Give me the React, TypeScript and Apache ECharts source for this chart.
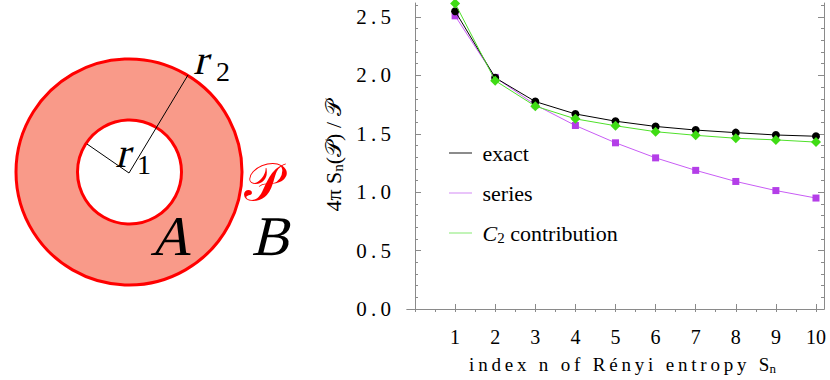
import React, { useEffect, useRef } from "react";
import * as echarts from "echarts";

const N = [1, 2, 3, 4, 5, 6, 7, 8, 9, 10];
const exactValues = [2.55, 1.98, 1.776, 1.67, 1.608, 1.563, 1.532, 1.51, 1.49, 1.479];
const seriesValues = [2.51, 1.983, 1.748, 1.571, 1.423, 1.294, 1.187, 1.092, 1.014, 0.95];
const c2Values = [2.616, 1.955, 1.737, 1.628, 1.569, 1.518, 1.487, 1.462, 1.448, 1.429];
const seriesNames = ["exact", "series", "C2 contribution"];
const xTickLabels = [1, 2, 3, 4, 5, 6, 7, 8, 9, 10];
const xTopTicks = [0, 0.5, 1, 1.5, 2, 2.5, 3, 3.5, 4, 4.5, 5, 5.5, 6, 6.5, 7, 7.5, 8, 8.5, 9, 9.5, 10];
const yTickLabels = [0, 0.5, 1.0, 1.5, 2.0, 2.5];
const yMinorTicks = [0, 0.1, 0.2, 0.3, 0.4, 0.5, 0.6, 0.7, 0.8, 0.9, 1.0, 1.1, 1.2, 1.3, 1.4, 1.5, 1.6, 1.7, 1.8, 1.9, 2.0, 2.1, 2.2, 2.3, 2.4, 2.5, 2.6];

const SERIF = "Liberation Serif";
const FRAME = "#8a8a8a";

function spaced(s: string) {
  return s.split("").join("\u2009");
}

function txt(name: string, text: string, x: number, y: number, size: number, fill = "#000") {
  return {
    type: "text",
    name,
    x,
    y,
    style: {
      text,
      fontFamily: SERIF,
      fontSize: size,
      fill,
      verticalAlign: "top",
    },
  };
}

export default function App() {
  const ref = useRef<HTMLDivElement>(null);
  useEffect(() => {
    if (!ref.current) return;
    const chart = echarts.init(ref.current, null, { renderer: "svg" });
    const pairs = (vals: number[]) => N.map((n, i) => [n, vals[i]]);
    const xRange = { min: -0.2, max: 10.2 };
    const yRange = { min: 0, max: 2.62 };
    const labelStyle = { fontFamily: SERIF, fontSize: 20, color: "#000" };
    chart.setOption({
      animation: false,
      grid: { left: 407, top: 3, right: 6, bottom: 66 },
      legend: {
        left: 449,
        top: 141,
        padding: 0,
        orient: "vertical",
        itemWidth: 23,
        itemHeight: 1.5,
        itemGap: 16,
        icon: "rect",
        data: [
          { name: seriesNames[0], itemStyle: { color: "#666666" } },
          { name: seriesNames[1], itemStyle: { color: "#e2b0f8" } },
          { name: seriesNames[2], itemStyle: { color: "#aef0a0" } },
        ],
        formatter: (name: string) =>
          name === seriesNames[2] ? " {i|C}{s|2}{t| contribution}" : " {t|" + name + "}",
        textStyle: {
          fontFamily: SERIF,
          fontSize: 22,
          color: "#000",
          lineHeight: 24,
          rich: {
            t: { fontFamily: SERIF, fontSize: 22, color: "#000" },
            i: { fontFamily: SERIF, fontSize: 22, fontStyle: "italic", color: "#000" },
            s: { fontFamily: SERIF, fontSize: 15, color: "#000", padding: [9, 0, 0, 0] },
          },
        },
      },
      xAxis: [
        {
          type: "value",
          position: "bottom",
          ...xRange,
          axisLine: { show: true, lineStyle: { color: FRAME, width: 1 } },
          axisTick: { show: true, inside: true, length: 5, customValues: xTickLabels, lineStyle: { color: FRAME } },
          axisLabel: { ...labelStyle, customValues: xTickLabels, margin: 18 },
          splitLine: { show: false },
          name: spaced("index n of Rényi entropy S") + "{s|n}",
          nameLocation: "middle",
          nameGap: 45,
          nameTextStyle: {
            fontFamily: SERIF,
            fontSize: 19,
            color: "#000",
            padding: [0, 0, 0, 14],
            rich: {
              s: { fontFamily: SERIF, fontSize: 13, color: "#000", padding: [8, 0, 0, 0] },
            },
          },
        },
        {
          type: "value",
          position: "top",
          ...xRange,
          axisLine: { show: true, lineStyle: { color: FRAME, width: 1 } },
          axisTick: { show: true, inside: true, length: 3, customValues: xTopTicks, lineStyle: { color: FRAME } },
          axisLabel: { show: false },
          splitLine: { show: false },
        },
      ],
      yAxis: [
        {
          type: "value",
          position: "left",
          ...yRange,
          axisLine: { show: true, lineStyle: { color: FRAME, width: 1 } },
          axisTick: { show: true, inside: true, length: 6, customValues: yTickLabels, lineStyle: { color: FRAME } },
          axisLabel: {
            ...labelStyle,
            fontSize: 21,
            customValues: yTickLabels,
            margin: 16,
            formatter: (v: number) => spaced(v.toFixed(1)),
          },
          splitLine: { show: false },
          name: "{a|4π S}{s|n}{a|(𝒫) / 𝒫}",
          nameLocation: "middle",
          nameRotate: 90,
          nameGap: 45,
          nameTextStyle: {
            rich: {
              a: { fontFamily: SERIF, fontSize: 22, color: "#000" },
              s: { fontFamily: SERIF, fontSize: 15, color: "#000", padding: [9, 0, 0, 0] },
            },
          },
        },
        {
          type: "value",
          position: "left",
          ...yRange,
          axisLine: { show: false },
          axisTick: { show: true, inside: true, length: 3, customValues: yMinorTicks, lineStyle: { color: FRAME } },
          axisLabel: { show: false },
          splitLine: { show: false },
        },
        {
          type: "value",
          position: "right",
          ...yRange,
          axisLine: { show: true, lineStyle: { color: FRAME, width: 1 } },
          axisTick: { show: true, inside: true, length: 6, customValues: yTickLabels, lineStyle: { color: FRAME } },
          axisLabel: { show: false },
          splitLine: { show: false },
        },
        {
          type: "value",
          position: "right",
          ...yRange,
          axisLine: { show: false },
          axisTick: { show: true, inside: true, length: 3, customValues: yMinorTicks, lineStyle: { color: FRAME } },
          axisLabel: { show: false },
          splitLine: { show: false },
        },
      ],
      series: [
        {
          name: seriesNames[1],
          type: "line",
          data: pairs(seriesValues),
          symbol: "rect",
          symbolSize: 7,
          lineStyle: { color: "#c85cf5", width: 1 },
          itemStyle: { color: "#b43ee8" },
          z: 2,
        },
        {
          name: seriesNames[0],
          type: "line",
          data: pairs(exactValues),
          symbol: "circle",
          symbolSize: 8,
          lineStyle: { color: "#000", width: 1 },
          itemStyle: { color: "#000" },
          z: 3,
        },
        {
          name: seriesNames[2],
          type: "line",
          data: pairs(c2Values),
          symbol: "diamond",
          symbolSize: 10,
          lineStyle: { color: "#4fe02a", width: 1 },
          itemStyle: { color: "#3fdc14" },
          z: 4,
        },
      ],
      graphic: [
        { type: "circle", shape: { cx: 129, cy: 172, r: 113 }, style: { fill: "#f99a89", stroke: "#ff0000", lineWidth: 3 } },
        { type: "circle", shape: { cx: 129.5, cy: 172, r: 52 }, style: { fill: "#ffffff", stroke: "#ff0000", lineWidth: 3 } },
        { type: "line", shape: { x1: 129, y1: 173, x2: 188, y2: 75 }, style: { stroke: "#000", lineWidth: 1 } },
        { type: "line", shape: { x1: 129, y1: 173, x2: 87, y2: 144 }, style: { stroke: "#000", lineWidth: 1 } },
        txt("slant42", "r", 193, 39, 42),
        txt("up", "2", 216, 57, 28),
        txt("slant42", "r", 115, 132, 42),
        txt("up", "1", 137, 150, 28),
        txt("slant56", "A", 150, 208, 56),
        txt("slant56", "B", 251, 208, 56),
        txt("up", "𝒫", 244, 156, 52, "#ff0000"),
      ],
    });
    // emulate math italics: shear the upright serif glyphs about their baseline
    try {
      const zr: any = chart.getZr();
      const roots: any[] = zr.storage.getRoots();
      const visit = (el: any) => {
        if (el && typeof el.name === "string" && el.name.indexOf("slant") === 0) {
          const size = parseFloat(el.name.slice(5));
          el.originX = 0;
          el.originY = size * 0.86;
          el.skewX = -0.24;
          el.markRedraw();
        }
      };
      roots.forEach((r) => {
        visit(r);
        if (r.traverse) r.traverse(visit);
      });
      zr.refreshImmediately();
    } catch (e) {
      // leave the glyphs upright
    }
    return () => chart.dispose();
  }, []);
  return <div ref={ref} style={{ position: "absolute", left: 0, top: 0, width: 830, height: 380 }} />;
}
